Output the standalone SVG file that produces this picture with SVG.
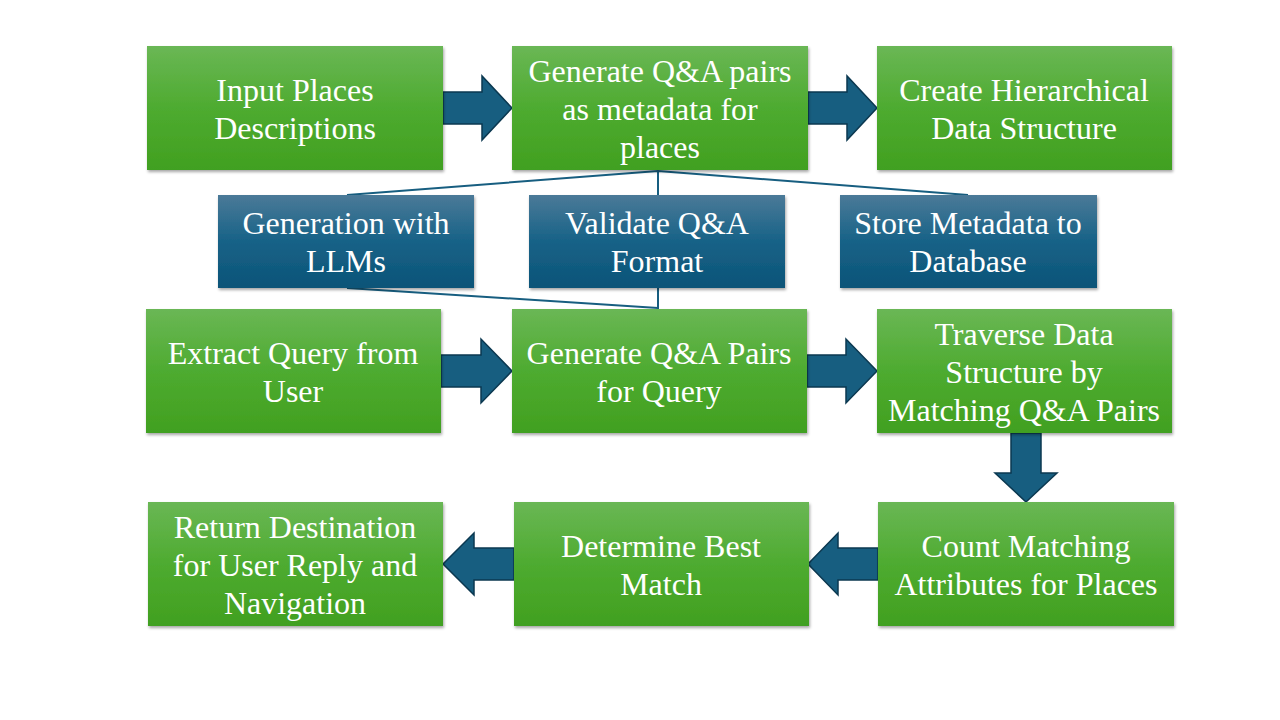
<svg xmlns="http://www.w3.org/2000/svg" width="1280" height="720" viewBox="0 0 1280 720">
<style>
.t{font-family:"Liberation Serif","Times New Roman",serif;font-size:32px;fill:#ffffff;text-anchor:middle}
.g{fill:url(#gg);filter:url(#sh)}
.b{fill:url(#bg);filter:url(#sh)}
.ar{fill:#175e80;stroke:#0b3850;stroke-width:1.5;stroke-linejoin:miter}
.ln{stroke:#175e80;stroke-width:2;fill:none}
</style>
<defs>
<linearGradient id="gg" x1="0" y1="0" x2="0" y2="1">
<stop offset="0" stop-color="#6ab755"/>
<stop offset="0.5" stop-color="#4eab30"/>
<stop offset="1" stop-color="#41a020"/>
</linearGradient>
<linearGradient id="bg" x1="0" y1="0" x2="0" y2="1">
<stop offset="0" stop-color="#4b7a98"/>
<stop offset="0.5" stop-color="#176287"/>
<stop offset="1" stop-color="#0c5478"/>
</linearGradient>
<filter id="sh" x="-5%" y="-5%" width="110%" height="115%">
<feDropShadow dx="1" dy="2" stdDeviation="1.5" flood-color="#000" flood-opacity="0.35"/>
</filter>
</defs>
<rect width="1280" height="720" fill="#ffffff"/>

<g id="connectors">
<polyline class="ln" points="347,195 658,171 968,195"/>
<line class="ln" x1="658" y1="171" x2="658" y2="195"/>
<polyline class="ln" points="347,288 658,308"/>
<line class="ln" x1="658" y1="288" x2="658" y2="309"/>
<path class="ar" d="M443,92 H482 V76 L512,108 L482,140 V124 H443 Z"/>
<path class="ar" d="M808,92 H847 V76 L877,108 L847,140 V124 H808 Z"/>
<path class="ar" d="M441,355 H481 V339 L512,371 L481,403 V387 H441 Z"/>
<path class="ar" d="M807,355 H846 V339 L877,371 L846,403 V387 H807 Z"/>
<path class="ar" d="M1011,433 V473 H995 L1026,502 L1057,473 H1041 V433 Z"/>
<path class="ar" d="M878,548 H838 V533 L808,564 L838,595 V580 H878 Z"/>
<path class="ar" d="M514,548 H474 V533 L443,564 L474,595 V580 H514 Z"/>
</g>

<g id="n1"><rect class="g" x="147" y="46" width="296" height="124"/>
<text class="t" x="295" y="101">Input Places</text><text class="t" x="295" y="139">Descriptions</text></g>
<g id="n2"><rect class="g" x="512" y="46" width="296" height="124"/>
<text class="t" x="660" y="82">Generate Q&amp;A pairs</text><text class="t" x="660" y="120">as metadata for</text><text class="t" x="660" y="158">places</text></g>
<g id="n3"><rect class="g" x="877" y="46" width="295" height="124"/>
<text class="t" x="1024" y="101">Create Hierarchical</text><text class="t" x="1024" y="139">Data Structure</text></g>

<g id="s1"><rect class="b" x="218" y="195" width="256" height="93"/>
<text class="t" x="346" y="234">Generation with</text><text class="t" x="346" y="272">LLMs</text></g>
<g id="s2"><rect class="b" x="529" y="195" width="256" height="93"/>
<text class="t" x="657" y="234">Validate Q&amp;A</text><text class="t" x="657" y="272">Format</text></g>
<g id="s3"><rect class="b" x="840" y="195" width="257" height="93"/>
<text class="t" x="968" y="234">Store Metadata to</text><text class="t" x="968" y="272">Database</text></g>

<g id="n4"><rect class="g" x="146" y="309" width="295" height="124"/>
<text class="t" x="293" y="364">Extract Query from</text><text class="t" x="293" y="402">User</text></g>
<g id="n5"><rect class="g" x="512" y="309" width="295" height="124"/>
<text class="t" x="659" y="364">Generate Q&amp;A Pairs</text><text class="t" x="659" y="402">for Query</text></g>
<g id="n6"><rect class="g" x="877" y="309" width="295" height="124"/>
<text class="t" x="1024" y="345">Traverse Data</text><text class="t" x="1024" y="383">Structure by</text><text class="t" x="1024" y="421">Matching Q&amp;A Pairs</text></g>

<g id="n7"><rect class="g" x="878" y="502" width="296" height="124"/>
<text class="t" x="1026" y="557">Count Matching</text><text class="t" x="1026" y="595">Attributes for Places</text></g>
<g id="n8"><rect class="g" x="514" y="502" width="295" height="124"/>
<text class="t" x="661" y="557">Determine Best</text><text class="t" x="661" y="595">Match</text></g>
<g id="n9"><rect class="g" x="148" y="502" width="295" height="124"/>
<text class="t" x="295" y="538">Return Destination</text><text class="t" x="295" y="576">for User Reply and</text><text class="t" x="295" y="614">Navigation</text></g>
</svg>
